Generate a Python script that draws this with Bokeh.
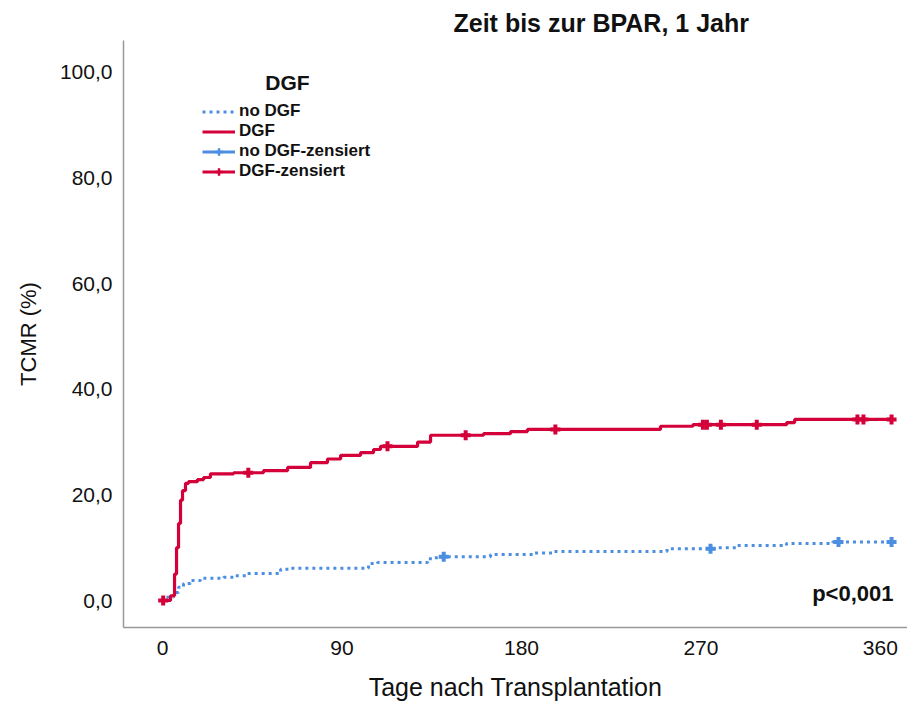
import numpy as np
from bokeh.plotting import figure
from bokeh.models import Range1d, FixedTicker, Label, Legend, LegendItem
from bokeh.embed import file_html
from bokeh.resources import INLINE

# ---- data ----
x_ticks = [0, 90, 180, 270, 360]
y_ticks = [0, 20, 40, 60, 80, 100]
y_tick_labels = ["0,0", "20,0", "40,0", "60,0", "80,0", "100,0"]

# DGF group: cumulative incidence (%) step function
dgf_days = [0, 4, 6, 7, 8, 9, 10, 11.5, 13, 17.5, 20.6, 24, 35.6, 50.6, 62.7, 74.2, 82.7,
            89.3, 99.3, 105.8, 109.3, 127.9, 134.4, 161, 174.5, 183, 249.7, 266, 313, 317, 365.6]
dgf_pct = [0, 0.9, 5.0, 10.0, 14.6, 19.0, 20.8, 22.2, 22.5, 22.9, 23.3, 24.0, 24.2, 24.6, 25.2,
           26.1, 26.8, 27.5, 28.0, 28.6, 29.2, 30.0, 31.3, 31.6, 32.0, 32.4, 33.0, 33.3, 33.7, 34.3, 34.3]
dgf_cens_days = [0.3, 43, 112.8, 152, 197, 271, 273, 280, 298, 348.5, 351.5, 365.6]

# no DGF group
nodgf_days = [0, 1, 5.5, 8, 10.5, 14, 19, 30.6, 35.6, 42.6, 59.2, 64.2, 103.3, 107.8, 132.9,
              135.9, 139, 164.5, 185.6, 196, 253, 278.8, 288.3, 312.9, 336, 365.6]
nodgf_pct = [0, 0.6, 1.5, 2.5, 3.2, 3.8, 4.2, 4.4, 4.7, 5.1, 5.9, 6.1, 7.0, 7.2, 7.9,
             8.1, 8.3, 8.7, 9.0, 9.3, 9.8, 10.0, 10.4, 10.8, 11.1, 11.1]
nodgf_cens_days = [141, 274.8, 339, 365.6]

RED = "#D4003A"
BLUE = "#4C8FE0"
FONT = "Liberation Sans"
NAN = [float("nan")]


def value_at(days, pct, t):
    idx = np.searchsorted(np.array(days), np.array(t), side="right") - 1
    return [pct[i] for i in idx]


p = figure(width=907, height=704, output_backend="svg", toolbar_location=None,
           title="Zeit bis zur BPAR, 1 Jahr",
           x_range=Range1d(-19.6, 373.6), y_range=Range1d(-5.11, 106.06),
           min_border_left=123, min_border_right=0, min_border_top=40, min_border_bottom=77)
p.outline_line_color = None
p.xgrid.visible = False
p.ygrid.visible = False
p.background_fill_color = "white"

p.title.text_font = FONT
p.title.text_font_size = "25px"
p.title.text_font_style = "bold"
p.title.text_color = "#111111"
p.title.align = "left"
p.title.offset = 330
p.title.standoff = 8

for ax in (p.xaxis[0], p.yaxis[0]):
    ax.axis_line_color = "#999999"
    ax.axis_line_width = 1.5
    ax.major_tick_line_color = None
    ax.minor_tick_line_color = None
    ax.major_label_text_font = FONT
    ax.major_label_text_font_size = "21px"
    ax.major_label_text_color = "#111111"
    ax.axis_label_text_font = FONT
    ax.axis_label_text_font_style = "normal"
    ax.axis_label_text_color = "#111111"

p.xaxis.axis_label_text_font_size = "25px"
p.yaxis.axis_label_text_font_size = "22px"
p.xaxis.ticker = FixedTicker(ticks=x_ticks)
p.yaxis.ticker = FixedTicker(ticks=y_ticks)
p.yaxis.major_label_overrides = {t: l for t, l in zip(y_ticks, y_tick_labels)}
p.xaxis.major_label_standoff = 7
p.yaxis.major_label_standoff = 5
p.xaxis.axis_label = "Tage nach Transplantation"
p.yaxis.axis_label = "TCMR (%)"
p.xaxis.axis_label_standoff = 15
p.yaxis.axis_label_standoff = 16

blue_step = p.step(nodgf_days, nodgf_pct, mode="after", line_color=BLUE, line_width=3,
                   line_dash="3 4")
red_step = p.step(dgf_days, dgf_pct, mode="after", line_color=RED, line_width=3.2)

p.scatter(nodgf_cens_days, value_at(nodgf_days, nodgf_pct, nodgf_cens_days),
          marker="cross", size=10, line_width=4, line_color=BLUE)
p.scatter(dgf_cens_days, value_at(dgf_days, dgf_pct, dgf_cens_days),
          marker="cross", size=10, line_width=4, line_color=RED)

# invisible (NaN) renderers used only for the legend swatches of the censored entries
blue_swatch = p.line(x=NAN, y=NAN, line_color=BLUE, line_width=3)
red_swatch = p.line(x=NAN, y=NAN, line_color=RED, line_width=3)
blue_cross = p.scatter(x=NAN, y=NAN, marker="cross", size=10, line_width=2.5, line_color=BLUE)
red_cross = p.scatter(x=NAN, y=NAN, marker="cross", size=10, line_width=2.5, line_color=RED)

legend = Legend(items=[
    LegendItem(label="no DGF", renderers=[blue_step]),
    LegendItem(label="DGF", renderers=[red_step]),
    LegendItem(label="no DGF-zensiert", renderers=[blue_swatch, blue_cross]),
    LegendItem(label="DGF-zensiert", renderers=[red_swatch, red_cross]),
], location=(79, 446), glyph_width=33, glyph_height=19, label_height=19, spacing=0,
    label_standoff=4, padding=0, margin=0, border_line_alpha=0, background_fill_alpha=0,
    label_text_font=FONT, label_text_font_style="bold", label_text_font_size="17px",
    label_text_color="#111111")
p.add_layout(legend)

p.add_layout(Label(x=164, y=545, x_units="screen", y_units="screen", text="DGF",
                   text_align="center", text_baseline="middle", text_font=FONT,
                   text_font_size="21px", text_font_style="bold", text_color="#111111"))
p.add_layout(Label(x=770, y=34, x_units="screen", y_units="screen", text="p<0,001",
                   text_align="right", text_baseline="middle", text_font=FONT,
                   text_font_size="22px", text_font_style="bold", text_color="#111111"))

open("out.html", "w").write(file_html(p, INLINE))
